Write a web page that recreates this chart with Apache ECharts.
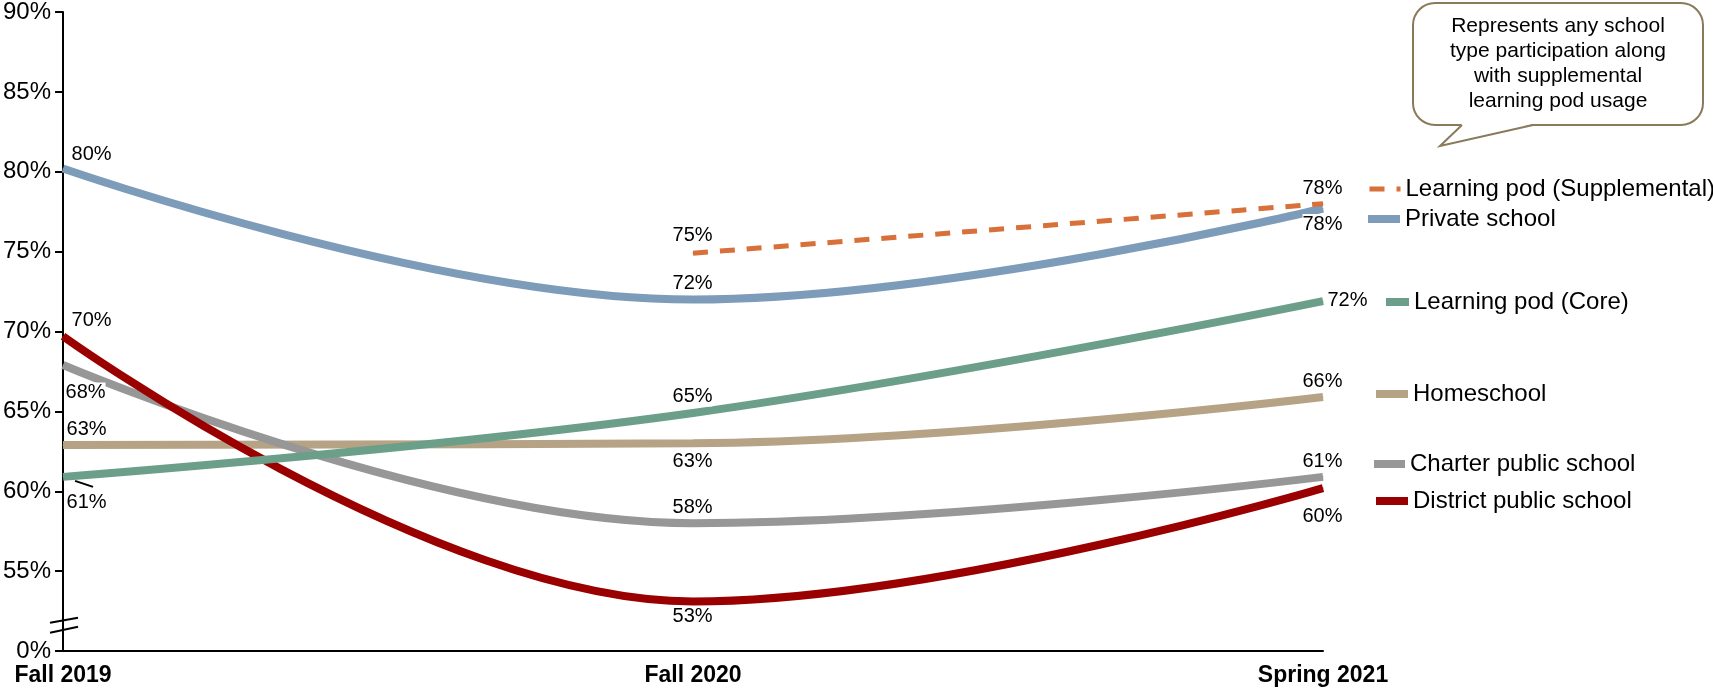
<!DOCTYPE html>
<html>
<head>
<meta charset="utf-8">
<script src="https://cdn.jsdelivr.net/npm/echarts@6.0.0/dist/echarts.min.js"></script>
<style>
  html, body { margin: 0; padding: 0; background: #fff; }
  #chart { width: 1713px; height: 689px; }
</style>
</head>
<body>
<div id="chart"></div>
<script>
var categories = ['Fall 2019', 'Fall 2020', 'Spring 2021'];

// values in %
var homeschool = [62.9, 63.0, 65.9];
var charterPublic = [67.9, 58.0, 60.9];
var districtPublic = [69.7, 53.1, 60.2];
var podCore = [60.9, 64.9, 71.9];
var privateSchool = [80.2, 72.0, 77.7];
var podSupplemental = [null, 74.9, 78.0];

// the axis is broken: the bottom tick stands for 0%
var yTicks = [50, 55, 60, 65, 70, 75, 80, 85, 90];
var yTickLabels = ['0%', '55%', '60%', '65%', '70%', '75%', '80%', '85%', '90%'];

var calloutText = 'Represents any school\ntype participation along\nwith supplemental\nlearning pod usage';

var FONT = '"Liberation Sans", Arial, sans-serif';

var chart = echarts.init(document.getElementById('chart'));

function makeSeries(name, values, color, width, spots, dashed) {
  return {
    name: name,
    type: 'line',
    smooth: 0.4,
    symbol: 'circle',
    symbolSize: 1,
    itemStyle: { color: color },
    lineStyle: { color: color, width: width, type: dashed ? [15, 12] : 'solid' },
    emphasis: { disabled: true },
    label: {
      show: true,
      align: 'center',
      verticalAlign: 'middle',
      fontSize: 20,
      color: '#000',
      fontFamily: FONT,
      backgroundColor: '#fff',
      formatter: function (p) { return Math.round(p.value) + '%'; }
    },
    data: values.map(function (v, i) {
      if (v == null) return null;
      return { value: v, label: { position: spots[i] } };
    })
  };
}

// label offsets from each point
var series = [
  makeSeries('Homeschool', homeschool, '#b6a285', 8, [[24, -15], [0, 19], [0, -15]]),
  makeSeries('Charter public school', charterPublic, '#979797', 8, [[23, 28], [0, -15], [0, -15]]),
  makeSeries('District public school', districtPublic, '#9b0000', 8, [[29, -15], [0, 16], [0, 29]]),
  makeSeries('Learning pod (Core)', podCore, '#6b9f89', 8, [[24, 26], [0, -16], [25, 0]]),
  makeSeries('Private school', privateSchool, '#7c9cb9', 8, [[29, -14], [0, -16], [0, 16]]),
  makeSeries('Learning pod (Supplemental)', podSupplemental, '#d8703a', 5, [null, [0, -17], [0, -15]], true)
];

// one legend per entry so each sits next to its line end
var legendSpots = [
  { name: 'Learning pod (Supplemental)', left: 1367, cy: 189, w: 31, lw: 5 },
  { name: 'Private school', left: 1364, cy: 219, w: 32, lw: 8 },
  { name: 'Learning pod (Core)', left: 1382, cy: 302, w: 23, lw: 8 },
  { name: 'Homeschool', left: 1372, cy: 394, w: 32, lw: 8 },
  { name: 'Charter public school', left: 1370, cy: 464, w: 31, lw: 8 },
  { name: 'District public school', left: 1372, cy: 501, w: 32, lw: 8 }
];

var legends = legendSpots.map(function (s) {
  return {
    data: [s.name],
    left: s.left,
    top: s.cy - 12,
    padding: 0,
    itemWidth: s.w,
    itemHeight: 24,
    selectedMode: false,
    itemStyle: { color: 'transparent', borderWidth: 0 },
    lineStyle: { width: s.lw },
    textStyle: { fontSize: 24, color: '#000', fontFamily: FONT }
  };
});

chart.setOption({
  animation: false,
  backgroundColor: '#fff',
  grid: { left: 63, right: 390, top: 11, bottom: 38 },
  legend: legends,
  xAxis: {
    type: 'category',
    data: categories,
    boundaryGap: false,
    axisTick: { show: false },
    axisLine: { lineStyle: { color: '#000', width: 2 } },
    axisLabel: { interval: 0, fontSize: 23, fontWeight: 'bold', color: '#000', margin: 13, fontFamily: FONT }
  },
  yAxis: {
    type: 'value',
    min: 50,
    max: 90,
    interval: 5,
    splitLine: { show: false },
    axisLine: { show: true, lineStyle: { color: '#000', width: 2 } },
    axisTick: { show: true, length: 8, lineStyle: { color: '#000', width: 2 } },
    axisLabel: {
      fontSize: 24,
      color: '#000',
      margin: 12,
      fontFamily: FONT,
      formatter: function (v) { return yTickLabels[yTicks.indexOf(v)]; }
    }
  },
  series: series
});

// decorations: axis break, leader line for 61%, callout bubble
var x0 = chart.convertToPixel({ xAxisIndex: 0 }, categories[0]);
var yb = chart.convertToPixel({ yAxisIndex: 0 }, 51.7);
var pCore = chart.convertToPixel({ gridIndex: 0 }, [0, podCore[0]]);
var brown = '#8b7a5a';

chart.setOption({
  graphic: [
    { type: 'line', shape: { x1: x0 - 13, y1: yb - 1, x2: x0 + 15, y2: yb - 6 }, style: { stroke: '#000', lineWidth: 2 } },
    { type: 'line', shape: { x1: x0 - 13, y1: yb + 9, x2: x0 + 15, y2: yb + 3 }, style: { stroke: '#000', lineWidth: 2 } },
    { type: 'line', shape: { x1: pCore[0] + 12, y1: pCore[1] + 4, x2: pCore[0] + 30, y2: pCore[1] + 10 }, style: { stroke: '#000', lineWidth: 2 } },
    { type: 'rect', shape: { x: 1413, y: 3, width: 290, height: 122, r: 22 }, style: { fill: '#fff', stroke: brown, lineWidth: 2 } },
    { type: 'polygon', shape: { points: [[1462, 124], [1440, 146], [1533, 124]] }, style: { fill: '#fff' } },
    { type: 'polyline', shape: { points: [[1462, 125], [1440, 146], [1533, 125]] }, style: { stroke: brown, lineWidth: 2, fill: null } },
    {
      type: 'text', x: 1558, y: 64,
      style: { text: calloutText, align: 'center', verticalAlign: 'middle', fontSize: 21, lineHeight: 25, fontFamily: FONT, fill: '#000' }
    }
  ]
});
</script>
</body>
</html>
